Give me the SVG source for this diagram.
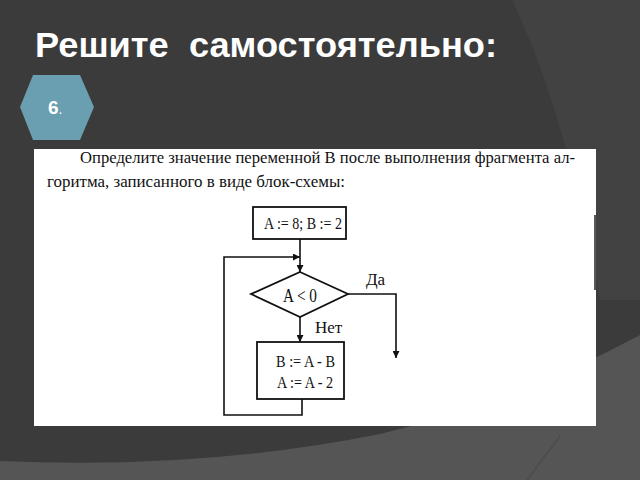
<svg xmlns="http://www.w3.org/2000/svg" width="640" height="480" viewBox="0 0 640 480">
  <defs>
    <marker id="arr" viewBox="0 0 10 10" refX="10" refY="5" markerWidth="7" markerHeight="7" markerUnits="userSpaceOnUse" orient="auto">
      <path d="M0,0 L10,5 L0,10 z" fill="#111"/>
    </marker>
    <style>
      .ln { fill: none; stroke: #111; stroke-width: 1.6; }
      .box { fill: #fff; stroke: #111; stroke-width: 1.8; }
      .ft { font-family: "Liberation Serif", "DejaVu Serif", serif; fill: #111; }
      .para { font-size: 17px; }
      .lbl { font-size: 17px; }
    </style>
  </defs>
  <!-- background -->
  <rect x="0" y="0" width="640" height="480" fill="#3b3b3b"/>
  <path d="M512,0 Q565,110 600,300 L640,300 L640,0 Z" fill="#424242"/>
  <path d="M0,461 Q200,470 380,434 Q520,400 640,335 L640,480 L0,480 Z" fill="#555555"/>
  <path d="M527,480 L560,436" stroke="#4c4c4c" stroke-width="1.5" fill="none"/>

  <!-- title -->
  <text x="35" y="57" font-family="'Liberation Sans', Arial, sans-serif" font-weight="bold" font-size="35" fill="#ffffff" xml:space="preserve" textLength="462" lengthAdjust="spacingAndGlyphs">Решите  самостоятельно:</text>

  <!-- hexagon -->
  <g id="badge">
    <polygon points="20,107 33,75 80,75 94,107 80,140 33,140" fill="#6a9eb1"/>
    <text x="48" y="114" font-family="'Liberation Sans', Arial, sans-serif" font-weight="bold" font-size="19" fill="#ffffff">6<tspan font-weight="normal" font-size="14">.</tspan></text>
  </g>

  <!-- white panel -->
  <rect x="34" y="149" width="562" height="277" fill="#ffffff"/>
  <line x1="595" y1="215" x2="595" y2="290" stroke="#222" stroke-width="1.5"/>

  <!-- task text -->
  <text class="ft para" x="80" y="163" textLength="495" lengthAdjust="spacingAndGlyphs">Определите значение переменной В после выполнения фрагмента ал-</text>
  <text class="ft para" x="47" y="187" textLength="298" lengthAdjust="spacingAndGlyphs">горитма, записанного в виде блок-схемы:</text>

  <!-- connectors -->
  <g id="connectors">
    <line class="ln" x1="300" y1="239" x2="300" y2="272" marker-end="url(#arr)"/>
    <polyline class="ln" points="302,399 302,415 224,415 224,257 300,257" marker-end="url(#arr)"/>
    <line class="ln" x1="300" y1="317" x2="300" y2="342" marker-end="url(#arr)"/>
    <polyline class="ln" points="348,294 396,294 396,358" marker-end="url(#arr)"/>
    <text class="ft lbl" x="366" y="285">Да</text>
    <text class="ft lbl" x="315" y="333">Нет</text>
  </g>

  <!-- nodes -->
  <g id="init">
    <rect class="box" x="253" y="207" width="93" height="32"/>
    <text class="ft lbl" x="264" y="229" textLength="78" lengthAdjust="spacingAndGlyphs">A := 8; B := 2</text>
  </g>
  <g id="cond">
    <polygon class="box" points="300,272 348,294 300,317 251,294"/>
    <text class="ft" x="283" y="302" font-size="18" textLength="34" lengthAdjust="spacingAndGlyphs">A &lt; 0</text>
  </g>
  <g id="body">
    <rect class="box" x="257" y="342" width="87" height="57"/>
    <text class="ft lbl" x="276" y="367" textLength="59" lengthAdjust="spacingAndGlyphs">B := A - B</text>
    <text class="ft lbl" x="277" y="388" textLength="56" lengthAdjust="spacingAndGlyphs">A := A - 2</text>
  </g>
</svg>
